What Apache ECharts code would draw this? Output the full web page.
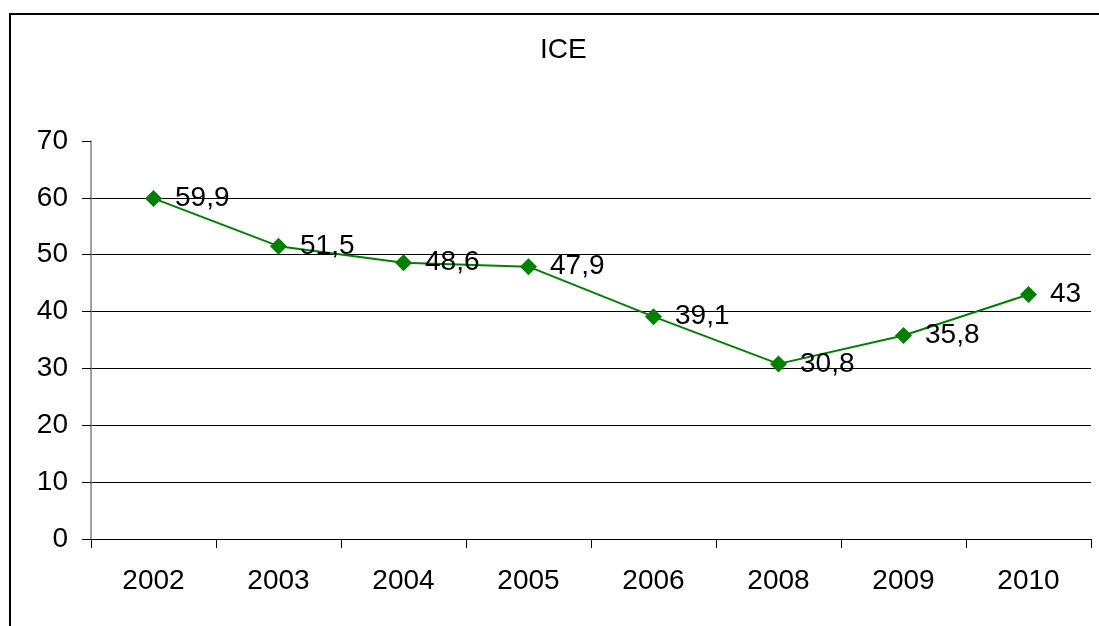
<!DOCTYPE html>
<html><head><meta charset="utf-8">
<script src="https://cdn.jsdelivr.net/npm/echarts@6/dist/echarts.min.js"></script>
<style>html,body{margin:0;padding:0;background:#fff}#c{width:1099px;height:626px}</style>
</head><body><div id="c"></div>
<script>
var categories = ['2002','2003','2004','2005','2006','2008','2009','2010'];
var values = [59.9, 51.5, 48.6, 47.9, 39.1, 30.8, 35.8, 43];
var yTicks = [0, 10, 20, 30, 40, 50, 60, 70];
var titleText = 'ICE';

var chart = echarts.init(document.getElementById('c'));
var font = 'Liberation Sans, Arial, sans-serif';
chart.setOption({
  animation: false,
  backgroundColor: '#fff',
  graphic: [{
    type: 'rect', shape: {x: 10, y: 14, width: 1200, height: 700},
    style: {fill: 'none', stroke: '#000', lineWidth: 2}, silent: true, z: 100
  }],
  title: {
    text: titleText, left: 535, top: 31,
    textStyle: {fontFamily: font, fontSize: 28, fontWeight: 'normal', color: '#000'}
  },
  grid: {left: 91, right: 8, top: 141, bottom: 87, containLabel: false},
  xAxis: {
    type: 'category', data: categories, boundaryGap: true,
    axisLine: {lineStyle: {color: '#000', width: 1}},
    axisTick: {show: true, length: 9, alignWithLabel: false, lineStyle: {color: '#000'}},
    axisLabel: {fontFamily: font, fontSize: 28, color: '#000', margin: 28}
  },
  yAxis: {
    type: 'value', min: yTicks[0], max: yTicks[yTicks.length-1], interval: 10,
    axisLine: {show: true, lineStyle: {color: '#808080', width: 1.5}},
    axisTick: {show: true, length: 9, lineStyle: {color: '#000'}},
    axisLabel: {fontFamily: font, fontSize: 28, color: '#000', margin: 23},
    splitLine: {show: true, showMaxLine: false, showMinLine: false, lineStyle: {color: '#000', width: 1}}
  },
  series: [{
    type: 'line', data: values,
    symbol: 'diamond', symbolSize: 17,
    lineStyle: {color: '#008000', width: 2},
    itemStyle: {color: '#008000'},
    label: {
      show: true, position: 'right', distance: 13,
      fontFamily: font, fontSize: 28, color: '#000',
      formatter: function(p){ return String(p.value).replace('.', ','); }
    }
  }]
});
</script></body></html>
